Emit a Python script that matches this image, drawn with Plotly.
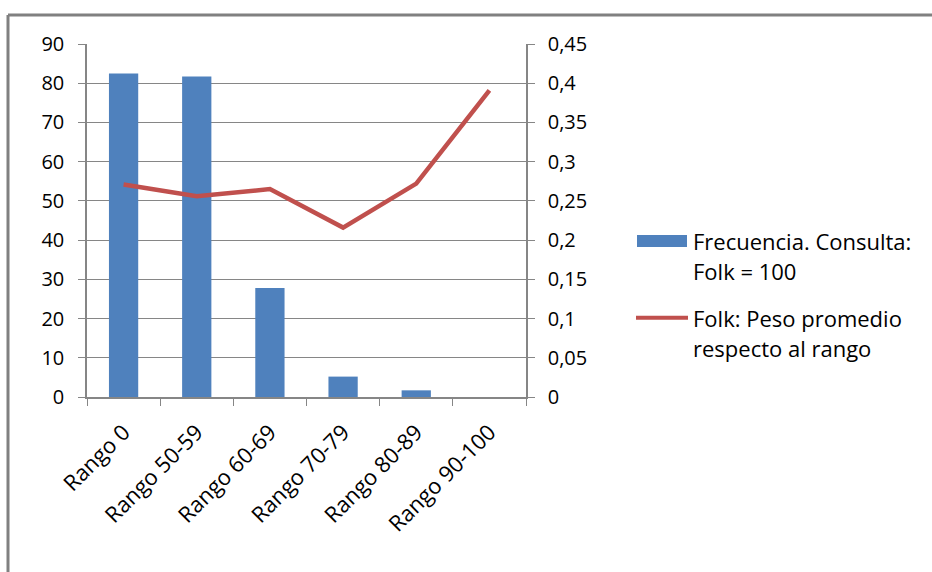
import plotly.graph_objects as go

# Data
categorias = ["Rango 0", "Rango 50-59", "Rango 60-69", "Rango 70-79", "Rango 80-89", "Rango 90-100"]
frecuencia = [82.5, 81.7, 27.8, 5.2, 1.7, 0]
peso_promedio = [0.271, 0.256, 0.265, 0.216, 0.272, 0.391]

y1_ticks = [0, 10, 20, 30, 40, 50, 60, 70, 80, 90]
y2_ticks = [0, 0.05, 0.1, 0.15, 0.2, 0.25, 0.3, 0.35, 0.4, 0.45]
y2_labels = ["0", "0,05", "0,1", "0,15", "0,2", "0,25", "0,3", "0,35", "0,4", "0,45"]

serie_barras = "Frecuencia. Consulta:<br>Folk = 100"
serie_linea = "Folk: Peso promedio<br>respecto al rango"

BLUE = "#4F81BD"
RED = "#C0504D"
GRAY = "#868686"
FONT = "'Open Sans', Lato, sans-serif"

W, H = 932, 572
ML, MR, MT, MB = 87, 406, 43.5, 174.5
PW, PH = W - ML - MR, H - MT - MB


def px(x):
    return (x - ML) / PW


def py(y):
    return 1 - (y - MT) / PH


fig = go.Figure()
fig.add_trace(go.Bar(
    x=categorias, y=frecuencia, name=serie_barras,
    marker=dict(color=BLUE, line=dict(width=0)), yaxis="y",
))
fig.add_trace(go.Scatter(
    x=categorias, y=peso_promedio, name=serie_linea, mode="lines",
    line=dict(color=RED, width=4.5), yaxis="y2",
))

tickfont = dict(family=FONT, size=20, color="#000000")
xtickfont = dict(family=FONT, size=22, color="#000000")

fig.update_layout(
    width=W, height=H,
    margin=dict(l=ML, r=MR, t=MT, b=MB, pad=0),
    paper_bgcolor="white", plot_bgcolor="white",
    showlegend=False,
    bargap=0.6,
    xaxis=dict(
        type="category", range=[-0.5, 5.5],
        showline=True, linecolor=GRAY, linewidth=1.5,
        ticks="outside", tickson="boundaries", ticklen=7, tickcolor=GRAY,
        tickangle=-45, tickfont=xtickfont, showgrid=False, ticklabelstandoff=12,
    ),
    yaxis=dict(
        range=[0, 90], tickvals=y1_ticks,
        showline=True, linecolor=GRAY, linewidth=1.5,
        ticks="outside", ticklen=7, tickcolor=GRAY,
        showgrid=True, gridcolor=GRAY, gridwidth=1,
        zeroline=False, tickfont=tickfont, ticklabelstandoff=10,
    ),
    yaxis2=dict(
        range=[0, 0.45], tickvals=y2_ticks, ticktext=y2_labels,
        overlaying="y", side="right",
        showline=True, linecolor=GRAY, linewidth=1.5,
        ticks="outside", ticklen=7, tickcolor=GRAY,
        showgrid=False, zeroline=False, tickfont=tickfont, ticklabelstandoff=9,
    ),
)

# Chart frame (top and left edges)
fig.add_shape(type="line", xref="paper", yref="paper",
              x0=px(8), y0=py(14.5), x1=px(W + 5), y1=py(14.5),
              line=dict(color="#808080", width=3), layer="above")
fig.add_shape(type="line", xref="paper", yref="paper",
              x0=px(8), y0=py(14.5), x1=px(8), y1=py(H + 5),
              line=dict(color="#808080", width=3), layer="above")

# Legend
fig.add_shape(type="rect", xref="paper", yref="paper",
              x0=px(637), x1=px(687), y0=py(235), y1=py(247),
              fillcolor=BLUE, line=dict(width=0))
fig.add_shape(type="line", xref="paper", yref="paper",
              x0=px(636), x1=px(688), y0=py(318), y1=py(318),
              line=dict(color=RED, width=4))

legend_font = dict(family=FONT, size=22, color="#000000")
for nombre, y_lineas in ((serie_barras, (241, 271)), (serie_linea, (318, 348))):
    for texto, yl in zip(nombre.split("<br>"), y_lineas):
        fig.add_annotation(xref="paper", yref="paper", x=px(691), y=py(yl),
                           xanchor="left", yanchor="middle", text=texto,
                           showarrow=False, font=legend_font)

fig.write_html("out.html")
